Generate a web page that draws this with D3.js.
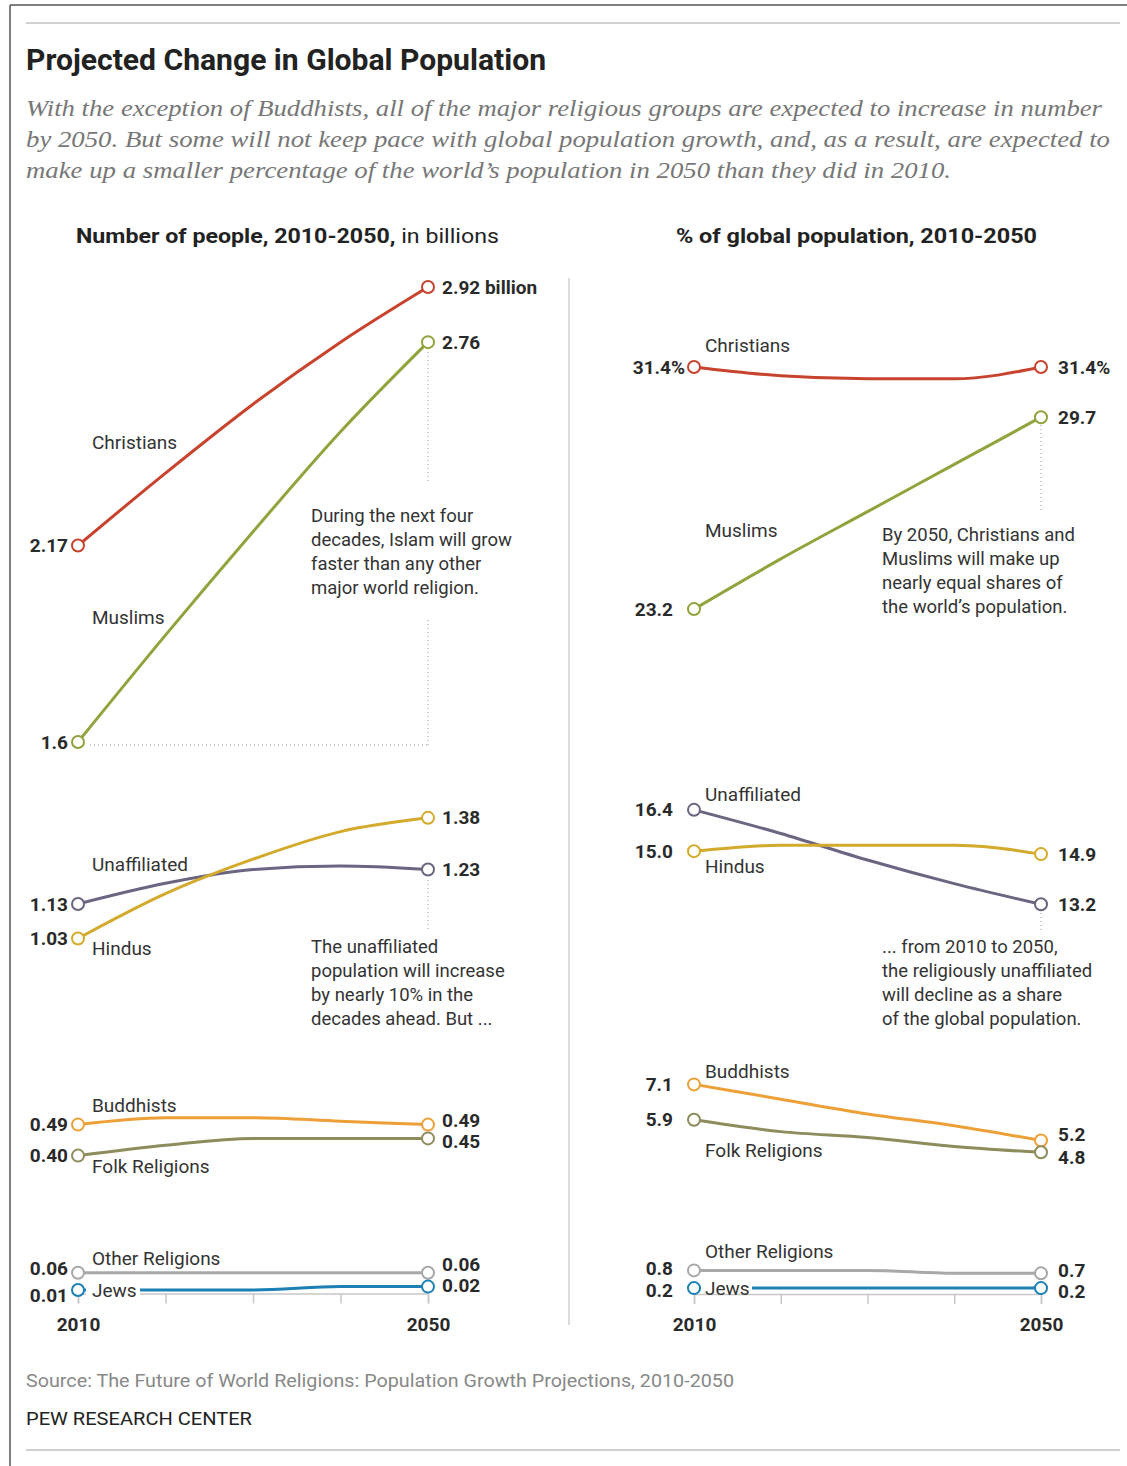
<!DOCTYPE html>
<html>
<head>
<meta charset="utf-8">
<script src="https://cdn.jsdelivr.net/npm/d3@7"></script>
<style>
  body { margin: 0; background: #fff; }
  .val { font-family: Roboto, 'Liberation Sans', sans-serif; font-weight: 700; font-size: 19px; fill: #2a2a2a; }
  .name { font-family: Roboto, 'Liberation Sans', sans-serif; font-size: 19px; fill: #333; }
  .note { font-family: Roboto, 'Liberation Sans', sans-serif; font-size: 18.5px; fill: #333; }
  .axis .domain { stroke: #c8c8c8; stroke-width: 1.5px; }
  .axis .tick line { stroke: #c8c8c8; stroke-width: 1.5px; }
  .axis .tick text { font-family: Roboto, sans-serif; font-weight: 700; font-size: 19px; fill: #2a2a2a; }
</style>
</head>
<body>
<div id="chart"></div>
<script>
// ---- data ----
const years = [2010, 2020, 2030, 2040, 2050];
const religions = ['Christians', 'Muslims', 'Unaffiliated', 'Hindus', 'Buddhists', 'Folk Religions', 'Other Religions', 'Jews'];

// number of people, billions
const countChristians = [2.17, 2.38, 2.58, 2.76, 2.92];
const countMuslims = [1.6, 1.91, 2.21, 2.50, 2.76];
const countUnaffiliated = [1.13, 1.19, 1.23, 1.24, 1.23];
const countHindus = [1.03, 1.16, 1.26, 1.34, 1.38];
const countBuddhists = [0.49, 0.51, 0.51, 0.50, 0.49];
const countFolk = [0.40, 0.43, 0.45, 0.45, 0.45];
const countOther = [0.06, 0.06, 0.06, 0.06, 0.06];
const countJews = [0.01, 0.01, 0.01, 0.02, 0.02];

// % of global population
const shareChristians = [31.4, 31.1, 31.0, 31.0, 31.4];
const shareMuslims = [23.2, 24.9, 26.5, 28.1, 29.7];
const shareUnaffiliated = [16.4, 15.6, 14.7, 13.9, 13.2];
const shareHindus = [15.0, 15.2, 15.2, 15.2, 14.9];
const shareBuddhists = [7.1, 6.6, 6.1, 5.7, 5.2];
const shareFolk = [5.9, 5.5, 5.3, 5.0, 4.8];
const shareOther = [0.8, 0.8, 0.8, 0.7, 0.7];
const shareJews = [0.2, 0.2, 0.2, 0.2, 0.2];

const countStartLabels = ['2.17', '1.6', '1.13', '1.03', '0.49', '0.40', '0.06', '0.01'];
const countEndLabels = ['2.92 billion', '2.76', '1.23', '1.38', '0.49', '0.45', '0.06', '0.02'];
const shareStartLabels = ['31.4%', '23.2', '16.4', '15.0', '7.1', '5.9', '0.8', '0.2'];
const shareEndLabels = ['31.4%', '29.7', '13.2', '14.9', '5.2', '4.8', '0.7', '0.2'];

const colors = ['#c8432e', '#8fa43c', '#6c6480', '#d3aa2c', '#eea038', '#8e8b5c', '#a8a8a8', '#1c80b4'];

// ---- layout ----
const W = 1127, H = 1466;
const svg = d3.select('#chart').append('svg').attr('width', W).attr('height', H);

// frame
svg.append('line').attr('x1', 10).attr('x2', W).attr('y1', 5).attr('y2', 5).attr('stroke', '#555').attr('stroke-width', 1.5);
svg.append('line').attr('x1', 10).attr('x2', 10).attr('y1', 5).attr('y2', H).attr('stroke', '#555').attr('stroke-width', 1.5);
svg.append('line').attr('x1', 26).attr('x2', 1120).attr('y1', 23).attr('y2', 23).attr('stroke', '#d0d0d0').attr('stroke-width', 2);
svg.append('line').attr('x1', 26).attr('x2', 1120).attr('y1', 1450).attr('y2', 1450).attr('stroke', '#d0d0d0').attr('stroke-width', 2);

// title + subtitle
svg.append('text').attr('x', 26).attr('y', 70)
  .attr('textLength', 520).attr('lengthAdjust', 'spacingAndGlyphs')
  .style('font-family', "'Liberation Sans Narrow', Roboto, sans-serif")
  .style('font-weight', 700).style('font-size', '29px').style('fill', '#222')
  .text('Projected Change in Global Population');

const subLines = [
  ['With the exception of Buddhists, all of the major religious groups are expected to increase in number', 1076],
  ['by 2050. But some will not keep pace with global population growth, and, as a result, are expected to', 1084],
  ['make up a smaller percentage of the world\u2019s population in 2050 than they did in 2010.', 925]
];
subLines.forEach((d, i) => {
  svg.append('text').attr('x', 26).attr('y', 116 + i * 31)
    .attr('textLength', d[1]).attr('lengthAdjust', 'spacingAndGlyphs')
    .style('font-family', "'Liberation Serif', Georgia, serif").style('font-style', 'italic')
    .style('font-size', '23px').style('fill', '#777')
    .text(d[0]);
});

// panel headings
const h1 = svg.append('text').attr('x', 76).attr('y', 243)
  .attr('textLength', 423).attr('lengthAdjust', 'spacingAndGlyphs')
  .style('font-family', 'Roboto, sans-serif').style('font-size', '20px').style('fill', '#222');
h1.append('tspan').style('font-weight', 700).text('Number of people, 2010-2050,');
h1.append('tspan').text(' in billions');
svg.append('text').attr('x', 676).attr('y', 243)
  .attr('textLength', 361).attr('lengthAdjust', 'spacingAndGlyphs')
  .style('font-family', 'Roboto, sans-serif').style('font-size', '20px').style('font-weight', 700).style('fill', '#222')
  .text('% of global population, 2010-2050');

// divider
svg.append('line').attr('x1', 569).attr('x2', 569).attr('y1', 278).attr('y2', 1325).attr('stroke', '#d0d0d0').attr('stroke-width', 1.5);

// footer
svg.append('text').attr('x', 26).attr('y', 1387)
  .attr('textLength', 708).attr('lengthAdjust', 'spacingAndGlyphs')
  .style('font-family', 'Roboto, sans-serif').style('font-size', '19px').style('fill', '#888')
  .text('Source: The Future of World Religions: Population Growth Projections, 2010-2050');
svg.append('text').attr('x', 26).attr('y', 1425)
  .attr('textLength', 226).attr('lengthAdjust', 'spacingAndGlyphs')
  .style('font-family', 'Roboto, sans-serif').style('font-size', '19px').style('fill', '#222')
  .text('PEW RESEARCH CENTER');

// panel config: label offsets and nudges (pixels)
const panels = [
  {
    series: [countChristians, countMuslims, countUnaffiliated, countHindus, countBuddhists, countFolk, countOther, countJews],
    startLabels: countStartLabels, endLabels: countEndLabels,
    x: d3.scaleLinear().domain([2010, 2050]).range([78, 428]),
    y: d3.scaleLinear().domain([0, 2.92]).range([1293.5, 287]),
    startDx: [-10, -10, -10, -10, -10, -10, -10, -10],
    endDx: 14, nameDx: 14,
    nameDy: [-103, -125, -40, 10, -19, 11, -14, 0],
    startDy: [0, 0, 0, 0, 0, 0, -4, 5],
    endDy: [0, 0, 0, 0, -4, 3, -8, -1],
    jewsGap: [86, 140],
    dots: [[428, 352, 428, 482], [428, 620, 428, 745], [90, 745, 428, 745], [428, 880, 428, 930]],
    notes: [
      { x: 311, y: 516, lines: ['During the next four', 'decades, Islam will grow', 'faster than any other', 'major world religion.'] },
      { x: 311, y: 947, lines: ['The unaffiliated', 'population will increase', 'by nearly 10% in the', 'decades ahead. But ...'] }
    ]
  },
  {
    series: [shareChristians, shareMuslims, shareUnaffiliated, shareHindus, shareBuddhists, shareFolk, shareOther, shareJews],
    startLabels: shareStartLabels, endLabels: shareEndLabels,
    x: d3.scaleLinear().domain([2010, 2050]).range([694, 1041]),
    y: d3.scaleLinear().domain([0, 31.4]).range([1294, 367]),
    startDx: [-9, -21, -21, -21, -21, -21, -21, -21],
    endDx: 17, nameDx: 11,
    nameDy: [-22, -79, -15, 15, -13, 31, -19, 0],
    startDy: [0, 0, 0, 0, 0, 0, -2, 2],
    endDy: [0, 0, 0, 0, -6, 5, -3, 3],
    jewsGap: [701, 752],
    dots: [[1041, 425, 1041, 510], [1041, 913, 1041, 930]],
    notes: [
      { x: 882, y: 535, lines: ['By 2050, Christians and', 'Muslims will make up', 'nearly equal shares of', 'the world\u2019s population.'] },
      { x: 882, y: 947, lines: ['... from 2010 to 2050,', 'the religiously unaffiliated', 'will decline as a share', 'of the global population.'] }
    ]
  }
];

panels.forEach(p => {
  const g = svg.append('g');
  const x = p.x, y = p.y;

  // axis
  g.append('g').attr('class', 'axis')
    .attr('transform', `translate(0,${y(0)})`)
    .call(d3.axisBottom(x).tickValues(years).tickSize(10).tickPadding(14)
      .tickFormat(d => (d === 2010 || d === 2050) ? d : ''));

  // dotted annotation leaders
  p.dots.forEach(d => {
    g.append('line').attr('x1', d[0]).attr('y1', d[1]).attr('x2', d[2]).attr('y2', d[3])
      .attr('stroke', '#9a9a9a').attr('stroke-width', 1).attr('stroke-dasharray', '1,3');
  });

  const line = d3.line()
    .x((d, i) => x(years[i]))
    .y(d => y(d))
    .curve(d3.curveMonotoneX);

  p.series.forEach((vals, k) => {
    g.append('path').datum(vals)
      .attr('d', line)
      .attr('fill', 'none')
      .attr('stroke', colors[k])
      .attr('stroke-width', 3);
  });

  // white patch behind the Jews label
  const jy = y(p.series[7][0]);
  g.append('rect').attr('x', p.jewsGap[0]).attr('y', jy - 9)
    .attr('width', p.jewsGap[1] - p.jewsGap[0]).attr('height', 14).attr('fill', '#fff');

  p.series.forEach((vals, k) => {
    const x0 = x(years[0]), x1 = x(years[years.length - 1]);
    const y0 = y(vals[0]), y1 = y(vals[vals.length - 1]);
    [[x0, y0], [x1, y1]].forEach(pt => {
      g.append('circle').attr('cx', pt[0]).attr('cy', pt[1]).attr('r', 6)
        .attr('fill', '#fff').attr('stroke', colors[k]).attr('stroke-width', 2);
    });
    g.append('text').attr('class', 'val').attr('x', x0 + p.startDx[k]).attr('y', y0 + p.startDy[k])
      .attr('dy', '0.35em').attr('text-anchor', 'end').text(p.startLabels[k]);
    g.append('text').attr('class', 'val').attr('x', x1 + p.endDx).attr('y', y1 + p.endDy[k])
      .attr('dy', '0.35em').text(p.endLabels[k]);
    g.append('text').attr('class', 'name').attr('x', x0 + p.nameDx).attr('y', y0 + p.nameDy[k])
      .attr('dy', '0.35em').text(religions[k]);
  });

  p.notes.forEach(n => {
    n.lines.forEach((t, i) => {
      g.append('text').attr('class', 'note').attr('x', n.x).attr('y', n.y + i * 24)
        .attr('dy', '0.35em').text(t);
    });
  });
});
</script>
</body>
</html>
